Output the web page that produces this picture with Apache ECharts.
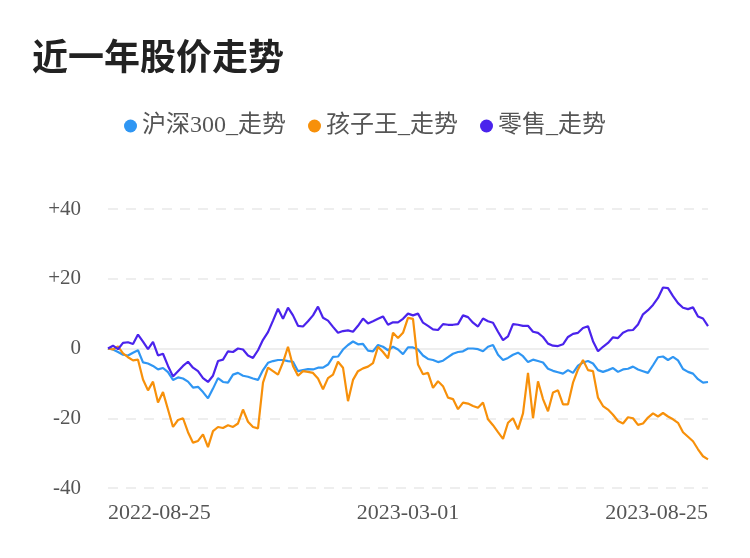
<!DOCTYPE html>
<html>
<head>
<meta charset="utf-8">
<script src="https://cdn.jsdelivr.net/npm/echarts@6/dist/echarts.min.js"></script>
<style>
html,body{margin:0;padding:0;background:#fff;}
#chart{width:750px;height:558px;}
</style>
</head>
<body>
<div id="chart"></div>
<script>
// --- data ---
var seriesNames = ['沪深300_走势', '孩子王_走势', '零售_走势'];
var yTicks = [-40, -20, 0, 20, 40];
var labelDates = ['2022-08-25', '2023-03-01', '2023-08-25'];

var hs300 = [0,-0.3,-1.0,-1.8,-2.0,-1.2,-0.5,-4.0,-4.3,-5.0,-6.0,-5.6,-6.8,-9.0,-8.3,-8.6,-9.5,-11.2,-11.0,-12.5,
-14.3,-11.5,-8.5,-9.6,-9.8,-7.5,-7.0,-7.8,-8.1,-8.6,-9.0,-6.2,-4.1,-3.6,-3.3,-3.3,-3.6,-3.8,-6.5,-6.2,
-5.9,-6.0,-5.5,-5.5,-4.6,-2.4,-2.3,-0.3,1.0,2.0,1.2,1.3,-0.6,-0.8,1.0,0.5,-0.5,0.5,-0.3,-1.6,
0.3,0.3,-0.3,-2.0,-3.0,-3.3,-3.9,-3.5,-2.5,-1.5,-1.0,-0.8,0,0,-0.2,-0.8,0.5,1.0,-1.8,-3.3,
-2.7,-1.8,-1.2,-2.2,-3.9,-3.2,-3.6,-4.0,-5.8,-6.4,-6.8,-7.2,-6.2,-7.0,-4.9,-4.0,-3.6,-4.3,-6.2,-6.7,
-6.2,-5.6,-6.7,-6.0,-5.8,-5.2,-6.0,-6.5,-7.0,-4.8,-2.5,-2.3,-3.3,-2.4,-3.4,-5.9,-6.7,-7.2,-8.8,-9.8,
-9.6];

var kidswant = [0,-0.3,0.6,-1.4,-2.5,-3.4,-3.2,-8.9,-12.0,-9.5,-15.5,-12.5,-17.5,-22.5,-20.5,-20.0,-24.0,-27.0,-26.5,-24.6,
-28.3,-23.7,-22.5,-22.8,-22.0,-22.5,-21.5,-17.5,-21.0,-22.5,-22.9,-9.8,-5.5,-6.5,-7.5,-4.0,0.5,-5.0,-7.8,-6.5,
-6.7,-7.0,-8.6,-11.7,-8.5,-7.5,-3.8,-5.5,-15.1,-9.0,-6.5,-5.7,-5.2,-4.2,0.5,-1.0,-2.8,4.5,3.0,4.5,
8.8,8.5,-4.6,-7.4,-7.0,-11.3,-9.4,-10.8,-14.1,-14.5,-17.4,-15.5,-15.8,-16.5,-17.0,-15.5,-20.3,-22.0,-24.0,-25.9,
-21.3,-20.0,-23.2,-18.6,-7.0,-20.0,-9.4,-14.5,-18.0,-12.6,-12.0,-16.0,-16.0,-9.8,-6.0,-3.3,-6.2,-6.5,-14.1,-16.5,
-17.5,-19.0,-20.8,-21.5,-19.7,-20.0,-21.9,-21.5,-19.8,-18.6,-19.5,-18.5,-19.5,-20.3,-21.3,-24.0,-25.3,-26.6,-28.9,-30.9,
-31.8];

var retail = [0,0.8,-0.2,1.6,1.8,1.3,4.0,2.0,-0.2,1.9,-2.0,-1.5,-5.0,-8.0,-6.5,-5.0,-3.8,-5.5,-6.5,-8.5,
-9.6,-7.8,-3.6,-3.2,-0.8,-1.0,0,-0.3,-2.0,-2.7,-0.5,2.5,4.7,8.0,11.4,8.5,11.7,9.5,6.5,6.3,
7.8,9.5,12.0,8.8,8.0,6.2,4.5,5.0,5.2,4.8,6.5,8.6,7.2,7.8,8.5,9.2,6.8,7.5,7.5,8.5,
10.0,9.5,10.0,7.4,6.5,5.5,5.3,7.0,6.8,6.8,7.0,9.5,9.0,7.4,6.3,8.6,7.8,7.4,4.8,2.4,
3.5,7.0,6.8,6.5,6.5,4.8,4.5,3.3,1.4,0.8,0.7,1.2,3.3,4.2,4.5,5.9,6.4,2.1,-0.8,0.5,
1.6,3.2,3.0,4.5,5.2,5.3,6.9,9.8,11.0,12.5,14.5,17.5,17.3,15.0,13.0,11.7,11.3,11.8,9.2,8.6,
6.4];

// category labels: spread dates across the two halves of the year
function fmt(d){var m=d.getUTCMonth()+1,dd=d.getUTCDate();return d.getUTCFullYear()+'-'+(m<10?'0':'')+m+'-'+(dd<10?'0':'')+dd;}
function buildDates(n){
  var a=Date.UTC(2022,7,25), b=Date.UTC(2023,2,1), c=Date.UTC(2023,7,25), half=(n-1)/2, out=[];
  for(var i=0;i<n;i++){
    var t = i<=half ? a+(b-a)*i/half : b+(c-b)*(i-half)/half;
    out.push(fmt(new Date(Math.round(t/86400000)*86400000)));
  }
  return out;
}
var dates = buildDates(hs300.length);
var midIdx = (dates.length-1)/2, lastIdx = dates.length-1;

var colors = ['#2f96f3', '#f7900a', '#4a23ec'];
var latin = "'Liberation Serif', 'Noto Sans CJK SC', serif";

var chart = echarts.init(document.getElementById('chart'), null, {renderer:'canvas'});
chart.setOption({
  animation:false,
  color: colors,
  title:{
    text:'近一年股价走势', left:27, top:33,
    textStyle:{fontSize:36, fontWeight:'bold', color:'#222', fontFamily:"'Noto Sans CJK SC', sans-serif"}
  },
  legend:{
    data: seriesNames, top:109, left:119,
    icon:'circle', itemWidth:13, itemHeight:13, itemGap:22,
    textStyle:{fontSize:24, color:'#555', fontFamily:latin}
  },
  grid:{left:108, right:42, top:209, bottom:70, containLabel:false},
  xAxis:{
    type:'category', data:dates, boundaryGap:false,
    axisLine:{show:true, lineStyle:{color:'#eeeeee', width:2}},
    axisTick:{show:false},
    axisLabel:{
      interval:function(i){return i===0||i===midIdx||i===lastIdx;},
      alignMinLabel:'left', alignMaxLabel:'right',
      margin:14, fontSize:22, color:'#555', fontFamily:latin
    },
    splitLine:{show:false}
  },
  yAxis:{
    type:'value', min:yTicks[0], max:yTicks[yTicks.length-1], interval:20,
    axisLine:{show:false}, axisTick:{show:false},
    axisLabel:{
      margin:27, fontSize:21, color:'#555', fontFamily:latin,
      formatter:function(v){return v>0?'+'+v:String(v);}
    },
    splitLine:{show:true, lineStyle:{color:'#eeeeee', width:2, type:[10,8]}}
  },
  series:[
    {name:seriesNames[0], type:'line', data:hs300, showSymbol:false, symbol:'none', lineStyle:{width:2.2, color:colors[0]}, itemStyle:{color:colors[0]}},
    {name:seriesNames[1], type:'line', data:kidswant, showSymbol:false, symbol:'none', lineStyle:{width:2.2, color:colors[1]}, itemStyle:{color:colors[1]}},
    {name:seriesNames[2], type:'line', data:retail, showSymbol:false, symbol:'none', lineStyle:{width:2.2, color:colors[2]}, itemStyle:{color:colors[2]}}
  ]
});
</script>
</body>
</html>
